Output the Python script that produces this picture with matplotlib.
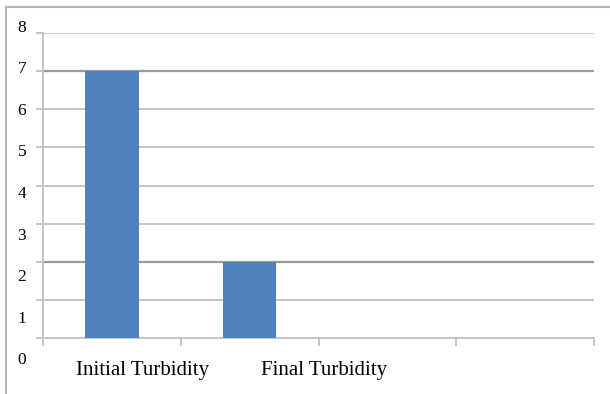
import matplotlib
matplotlib.use("Agg")
import matplotlib.pyplot as plt
from matplotlib.lines import Line2D
import matplotlib.transforms as mtransforms

categories = ["Initial Turbidity", "Final Turbidity", "", ""]
turbidity = [7, 2]
y_ticks = [0, 1, 2, 3, 4, 5, 6, 7, 8]

W, H = 610, 394
fig = plt.figure(figsize=(W / 100, H / 100), dpi=100)
fig.patch.set_facecolor("white")

# plot area in pixels: left, top, right, bottom
L, T, R, B = 43, 33, 594, 338
ax = fig.add_axes([L / W, (H - B) / H, (R - L) / W, (B - T) / H])

grid_c = "#c0c0c0"
dark_c = "#9a9a9a"
bar_c = "#4f81bd"

ax.set_xlim(-0.5, len(categories) - 0.5)
ax.set_ylim(0, 8)

for v in y_ticks[1:]:
    ax.axhline(v, color=grid_c, lw=1.3, zorder=1)
# darker lines at bar heights
for v in turbidity:
    ax.axhline(v, color=dark_c, lw=1.6, zorder=1.5)

x = list(range(len(turbidity)))
ax.bar(x, turbidity, width=0.39, color=bar_c, zorder=3)

for s in ["top", "right"]:
    ax.spines[s].set_visible(False)
for s in ["left", "bottom"]:
    ax.spines[s].set_color(grid_c)
    ax.spines[s].set_linewidth(1.3)

ax.set_yticks(y_ticks)
ax.set_yticklabels([])
ax.tick_params(axis="y", length=5, width=1.3, color=grid_c, direction="out")

bounds = [i - 0.5 for i in range(len(categories) + 1)]
ax.set_xticks(bounds)
ax.set_xticklabels([])
ax.tick_params(axis="x", length=6, width=1.3, color=grid_c, direction="out")

# y labels, spaced a bit wider than the gridlines
px_per_unit = (B - T) / 8
lab_step = 41.6 / px_per_unit
lab_top = (B - 27.5) / px_per_unit
ytr = mtransforms.blended_transform_factory(ax.transAxes, ax.transData)
for k in y_ticks:
    yv = lab_top - lab_step * (8 - k)
    ax.text(-21 / (R - L), yv, str(k), transform=ytr, ha="center", va="center",
            fontsize=12.5, family="Liberation Serif", clip_on=False)

# category labels
label_x = [-0.26, 1.083]
lab_tr = mtransforms.blended_transform_factory(ax.transData, ax.transAxes)
for name, lx in zip(categories[:2], label_x):
    ax.text(lx, -(370 - B) / (B - T), name, transform=lab_tr, ha="left", va="center",
            fontsize=15, family="Liberation Serif", clip_on=False)

# chart frame (only top and left edges fall inside the image)
fig.add_artist(Line2D([6 / W, 1], [1 - 7 / H, 1 - 7 / H], color="#b5b5b5", lw=1.5, transform=fig.transFigure))
fig.add_artist(Line2D([6 / W, 6 / W], [0, 1 - 7 / H], color="#b5b5b5", lw=1.5, transform=fig.transFigure))

fig.savefig("out.png", dpi=100)
